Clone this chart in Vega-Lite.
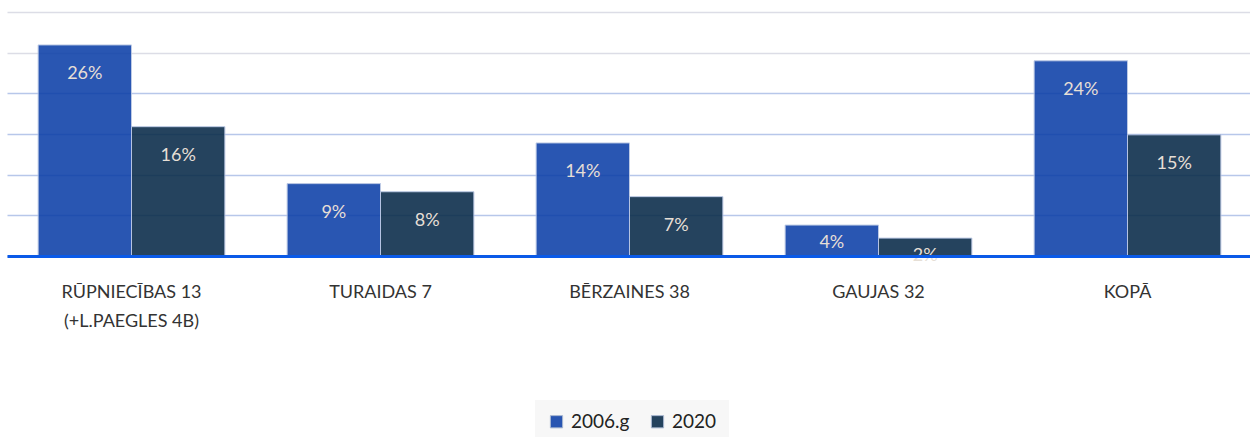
{
  "$schema": "https://vega.github.io/schema/vega-lite/v6.json",
  "width": 1245,
  "height": 244,
  "autosize": {"type": "none"},
  "padding": {"left": 7, "top": 12, "right": 0, "bottom": 181},
  "background": "white",
  "data": {
    "values": [
      {"iela": "RŪPNIECĪBAS 13 (+L.PAEGLES 4B)", "gads": "2006.g", "v": 0.2595},
      {"iela": "RŪPNIECĪBAS 13 (+L.PAEGLES 4B)", "gads": "2020", "v": 0.159},
      {"iela": "TURAIDAS 7", "gads": "2006.g", "v": 0.089},
      {"iela": "TURAIDAS 7", "gads": "2020", "v": 0.079},
      {"iela": "BĒRZAINES 38", "gads": "2006.g", "v": 0.139},
      {"iela": "BĒRZAINES 38", "gads": "2020", "v": 0.073},
      {"iela": "GAUJAS 32", "gads": "2006.g", "v": 0.038},
      {"iela": "GAUJAS 32", "gads": "2020", "v": 0.022},
      {"iela": "KOPĀ", "gads": "2006.g", "v": 0.24},
      {"iela": "KOPĀ", "gads": "2020", "v": 0.149}
    ]
  },
  "config": {
    "font": "Lato",
    "view": {"stroke": null}
  },
  "encoding": {
    "x": {
      "field": "iela",
      "type": "nominal",
      "sort": null,
      "scale": {"paddingInner": 0.25, "paddingOuter": 0.125},
      "axis": {
        "title": null,
        "labelAngle": 0,
        "labelFontSize": 18,
        "labelColor": "#333333",
        "labelPadding": 36,
        "labelLineHeight": 29,
        "labelBaseline": "middle",
        "ticks": false,
        "domainColor": "#0a5ae8",
        "domainWidth": 3,
        "zindex": 2,
        "labelExpr": "datum.value == 'RŪPNIECĪBAS 13 (+L.PAEGLES 4B)' ? ['RŪPNIECĪBAS 13', '(+L.PAEGLES 4B)'] : datum.value"
      }
    },
    "xOffset": {"field": "gads", "type": "nominal", "sort": ["2006.g", "2020"]},
    "y": {
      "field": "v",
      "type": "quantitative",
      "scale": {"domain": [0, 0.3], "nice": false},
      "axis": {
        "title": null,
        "labels": false,
        "ticks": false,
        "domain": false,
        "values": [0, 0.05, 0.1, 0.15, 0.2, 0.25, 0.3],
        "gridColor": {"condition": {"test": "datum.value >= 0.25", "value": "#dcdde6"}, "value": "#b7c7ea"},
        "gridWidth": 1.5
      }
    }
  },
  "layer": [
    {
      "mark": {"type": "bar", "opacity": 0.88, "stroke": "#b4c3e2", "strokeWidth": 1},
      "encoding": {
        "color": {
          "field": "gads",
          "type": "nominal",
          "scale": {"domain": ["2006.g", "2020"], "range": ["#0c3fa8", "#082a48"]},
          "legend": {
            "title": null,
            "orient": "none",
            "legendX": 528,
            "legendY": 388,
            "direction": "horizontal",
            "symbolType": "square",
            "symbolSize": 150,
            "symbolStrokeColor": "#9fb0cc",
            "symbolStrokeWidth": 1,
            "symbolOpacity": 0.88,
            "labelFontSize": 19,
            "labelColor": "#222222",
            "labelOffset": 5,
            "columnPadding": 18,
            "fillColor": "#f7f7f7",
            "padding": 12
          }
        }
      }
    },
    {
      "transform": [{"filter": "datum.v >= 0.05"}],
      "mark": {"type": "text", "baseline": "middle", "dy": 29, "fontSize": 18, "color": "#e6dfd6"},
      "encoding": {
        "text": {"field": "v", "type": "quantitative", "format": ".0%"}
      }
    },
    {
      "transform": [{"filter": "datum.v < 0.05"}],
      "mark": {"type": "text", "baseline": "middle", "dy": 18, "fontSize": 18, "color": "#e6dfd6"},
      "encoding": {
        "text": {"field": "v", "type": "quantitative", "format": ".0%"}
      }
    }
  ]
}
